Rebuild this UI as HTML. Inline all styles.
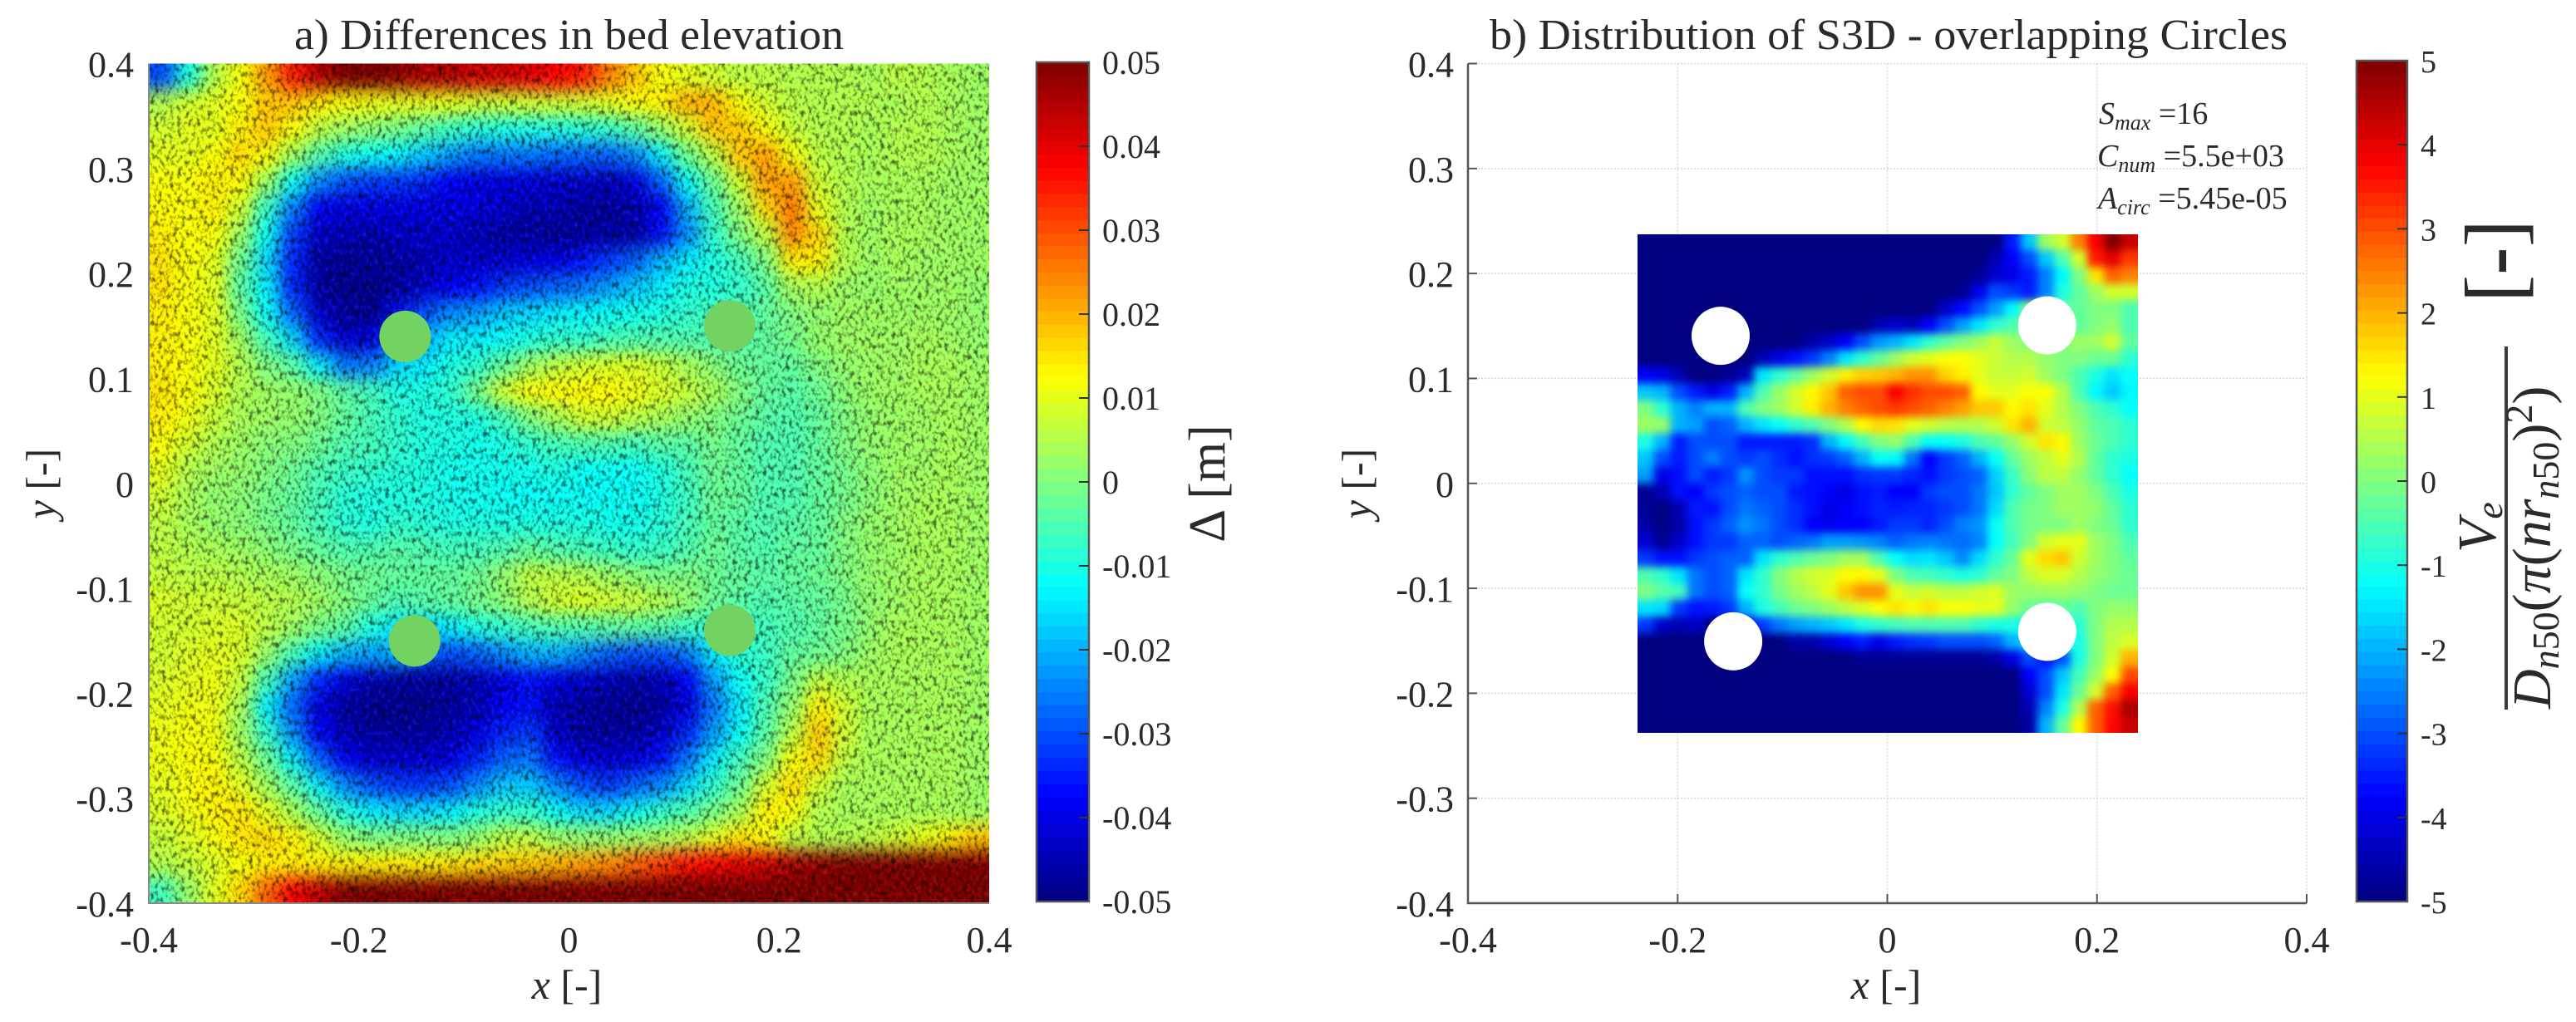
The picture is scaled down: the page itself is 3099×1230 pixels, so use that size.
<!DOCTYPE html>
<html><head><meta charset="utf-8"><title>Bed elevation and S3D distribution</title>
<style>
html,body{margin:0;padding:0;background:#fff}
svg{display:block}
text{font-family:"Liberation Serif",serif;fill:#2a2a2a}
.i{font-style:italic}
</style></head>
<body>
<svg id="fig" xmlns="http://www.w3.org/2000/svg" width="3099" height="1230" viewBox="0 0 3099 1230">
<defs>
<filter id="blurA" filterUnits="userSpaceOnUse" x="100" y="0" width="1200" height="1200" color-interpolation-filters="sRGB"><feGaussianBlur stdDeviation="10"/></filter>
<filter id="blurB" filterUnits="userSpaceOnUse" x="1900" y="200" width="760" height="760" color-interpolation-filters="sRGB"><feGaussianBlur stdDeviation="5"/></filter>
<filter id="shadeDark" filterUnits="userSpaceOnUse" x="179" y="76" width="1011" height="1011" color-interpolation-filters="sRGB">
<feTurbulence type="fractalNoise" baseFrequency="0.22 0.15" numOctaves="2" seed="7"/>
<feColorMatrix type="matrix" values="0 0 0 0 0  0 0 0 0 0  0 0 0 0 0  3 0 0 0 -1.4"/>
</filter>
<filter id="shadeLight" filterUnits="userSpaceOnUse" x="179" y="76" width="1011" height="1011" color-interpolation-filters="sRGB">
<feTurbulence type="fractalNoise" baseFrequency="0.22 0.15" numOctaves="2" seed="7"/>
<feColorMatrix type="matrix" values="0 0 0 0 1  0 0 0 0 1  0 0 0 0 1  -2.2 0 0 0 0.95"/>
</filter>
<clipPath id="clipA"><rect x="179" y="76.5" width="1011" height="1010.5"/></clipPath>
<clipPath id="clipB"><rect x="1970" y="282" width="602" height="600"/></clipPath>
</defs>

<g>
<g clip-path="url(#clipA)">
<g id="cellsA" filter="url(#blurA)"></g>
<rect x="179" y="76" width="1011" height="1011" fill="#000" filter="url(#shadeDark)" opacity="0.6"/>
<rect x="179" y="76" width="1011" height="1011" fill="#fff" filter="url(#shadeLight)" opacity="0.15"/>
<g id="piersA"></g>
</g>
<path d="M179 76.5V1087H1190" fill="none" stroke="#8a8a8a" stroke-width="2"/>
<text x="684.5" y="59" font-size="52" text-anchor="middle" textLength="661" lengthAdjust="spacingAndGlyphs">a) Differences in bed elevation</text>
<text x="682" y="1202" font-size="50" text-anchor="middle"><tspan class="i">x</tspan> [-]</text>
<text transform="translate(66,582) rotate(-90)" font-size="50" text-anchor="middle"><tspan class="i">y</tspan> [-]</text>
<text transform="translate(1473,582) rotate(-90)" font-size="62" text-anchor="middle">Δ [m]</text>
</g>

<g>
<g id="gridB"></g>
<g clip-path="url(#clipB)">
<g id="cellsB" filter="url(#blurB)"></g>
<g id="holesB"></g>
</g>
<path d="M1766 76.5V1087H2775" fill="none" stroke="#555" stroke-width="2.5"/>
<text x="2272" y="59" font-size="52" text-anchor="middle" textLength="960" lengthAdjust="spacingAndGlyphs">b) Distribution of S3D - overlapping Circles</text>
<text x="2269" y="1202" font-size="50" text-anchor="middle"><tspan class="i">x</tspan> [-]</text>
<text transform="translate(1649,582) rotate(-90)" font-size="50" text-anchor="middle"><tspan class="i">y</tspan> [-]</text>
<text x="2525" y="149" font-size="38"><tspan class="i">S</tspan><tspan class="i" font-size="26" dy="7">max</tspan><tspan dy="-7"> =16</tspan></text>
<text x="2523" y="200" font-size="38"><tspan class="i">C</tspan><tspan class="i" font-size="26" dy="7">num</tspan><tspan dy="-7"> =5.5e+03</tspan></text>
<text x="2524" y="251" font-size="38"><tspan class="i">A</tspan><tspan class="i" font-size="26" dy="7">circ</tspan><tspan dy="-7"> =5.45e-05</tspan></text>
<text transform="translate(3002,665) rotate(-90)" font-size="66"><tspan class="i">V</tspan><tspan class="i" font-size="46" dy="8">e</tspan></text>
<rect x="3013" y="417" width="4" height="437" fill="#3a3a3a"/>
<text transform="translate(3068,853) rotate(-90)" font-size="66"><tspan class="i">D</tspan><tspan class="i" font-size="46" dy="10">n</tspan><tspan font-size="46">50</tspan><tspan dy="-10">(</tspan><tspan class="i">π</tspan>(<tspan class="i">nr</tspan><tspan class="i" font-size="46" dy="10">n</tspan><tspan font-size="46">50</tspan><tspan dy="-10">)</tspan><tspan font-size="46" dy="-22">2</tspan><tspan dy="22">)</tspan></text>
<text transform="translate(3034,364) rotate(-90)" font-size="100">[<tspan font-weight="bold">-</tspan>]</text>
</g>
<g id="dyn"></g>
</svg>

<script>
// Panel a: bed elevation difference in mm, rows from y=+0.4 to y=-0.4, columns from x=-0.4 to x=+0.4
var bedRows = [
[-30,-10,5,12,22,35,45,50,50,48,45,45,42,42,40,38,35,25,18,12,10,8,6,6,5,5,5,4,6,5,4,3],
[5,8,10,12,18,18,14,12,11,10,10,10,8,8,8,8,8,10,12,14,20,20,12,8,6,5,5,5,4,5,4,3],
[8,10,10,14,18,12,6,3,1,-1,-4,-7,-9,-10,-10,-10,-9,-8,-4,2,8,18,18,12,7,5,5,4,5,5,4,3],
[10,10,12,16,12,3,-5,-10,-12,-14,-18,-22,-26,-26,-26,-28,-28,-28,-24,-14,-2,6,18,22,12,6,5,4,5,5,4,3],
[12,12,14,13,3,-12,-24,-30,-32,-32,-34,-38,-40,-40,-40,-42,-42,-44,-40,-28,-12,-2,8,22,22,8,5,4,4,4,3,3],
[13,12,14,8,-8,-25,-38,-40,-40,-40,-40,-40,-40,-42,-44,-44,-46,-46,-44,-38,-20,-6,3,16,26,10,5,3,4,4,3,3],
[14,12,12,3,-12,-32,-42,-44,-44,-42,-42,-42,-44,-46,-46,-47,-46,-46,-46,-36,-24,-8,0,6,24,16,5,3,4,4,3,3],
[15,12,10,-2,-16,-34,-46,-47,-47,-46,-44,-42,-42,-42,-40,-40,-36,-32,-28,-20,-14,-10,-6,0,14,14,5,3,4,3,3,3],
[15,12,10,-4,-14,-34,-46,-48,-48,-46,-42,-38,-36,-32,-30,-28,-26,-22,-18,-14,-10,-10,-8,-4,4,5,3,2,3,3,3,2],
[14,12,10,-1,-12,-28,-42,-46,-48,-36,-30,-24,-22,-18,-16,-14,-13,-12,-11,-10,-8,-6,-5,-3,0,2,3,3,3,3,3,2],
[14,12,10,3,-6,-16,-34,-42,-40,-25,-20,-14,-14,-12,-10,-8,-8,-6,-5,-5,-5,-5,-5,-3,-1,2,3,3,3,4,3,2],
[14,12,10,5,0,-4,-14,-26,-25,-16,-14,-10,-8,-3,3,6,8,9,9,7,4,1,-2,-3,-3,0,2,3,3,4,4,3],
[15,12,9,5,3,2,0,-4,-6,-10,-10,-8,-1,8,12,13,13,13,11,9,7,4,0,-3,-4,-2,1,3,3,4,4,3],
[14,11,7,4,3,2,0,-3,-6,-8,-10,-10,-10,-6,0,4,8,8,6,4,2,0,-2,-4,-5,-3,0,2,3,3,4,3],
[12,8,5,3,1,0,-2,-5,-6,-8,-10,-10,-11,-10,-8,-6,-5,-5,-6,-4,-4,-1,-3,-5,-5,-3,0,2,3,3,4,3],
[10,5,3,2,0,-2,-5,-7,-8,-9,-10,-11,-11,-11,-11,-10,-12,-12,-12,-10,-6,-2,-3,-5,-5,-3,-1,1,3,3,4,3],
[8,4,2,1,-1,-3,-6,-9,-10,-10,-10,-11,-11,-12,-12,-12,-12,-12,-12,-10,-7,-2,-3,-5,-5,-3,-1,1,3,4,4,3],
[6,4,2,1,-1,-3,-6,-9,-10,-8,-9,-10,-10,-10,-10,-10,-10,-11,-11,-9,-6,-3,-4,-5,-4,-3,0,2,3,4,4,3],
[6,5,4,3,1,-1,-3,-5,-5,-4,-5,-6,-6,-5,-3,-5,-6,-7,-8,-7,-5,-2,-4,-5,-3,-3,0,2,3,4,4,3],
[7,6,6,5,4,3,1,-1,-2,-3,-3,-3,-2,2,6,6,5,3,1,-1,0,-2,-3,-4,-3,-2,0,2,3,4,4,3],
[9,8,8,7,6,5,3,0,-3,-5,-4,-3,-1,1,5,8,9,8,7,5,2,-2,-4,-5,-4,-3,-1,2,3,4,4,3],
[8,8,9,9,6,3,-1,-4,-10,-15,-16,-14,-10,-8,-6,-5,-5,-4,-4,-5,-7,-8,-8,-6,-5,-3,-1,2,4,4,4,3],
[8,9,10,9,2,-6,-14,-20,-22,-20,-28,-30,-28,-24,-20,-20,-24,-28,-30,-30,-26,-14,-9,-7,-3,-2,0,3,4,4,4,3],
[9,10,11,7,-6,-22,-34,-40,-44,-46,-46,-46,-44,-40,-36,-40,-42,-44,-45,-44,-38,-22,-12,-7,-1,6,5,4,4,4,4,3],
[10,11,11,4,-14,-28,-40,-46,-48,-48,-48,-46,-44,-38,-36,-44,-46,-47,-48,-46,-40,-26,-14,-5,2,14,8,4,4,4,4,3],
[11,12,11,3,-8,-24,-38,-44,-46,-46,-46,-44,-40,-34,-32,-42,-46,-46,-46,-42,-34,-22,-12,-4,6,18,8,4,4,4,4,3],
[11,12,12,6,-2,-14,-28,-38,-42,-42,-42,-40,-34,-28,-26,-36,-40,-42,-40,-36,-26,-14,-6,0,12,16,6,4,4,4,4,3],
[10,12,14,10,3,-4,-14,-24,-30,-32,-32,-30,-24,-18,-18,-24,-30,-32,-28,-24,-16,-8,-2,8,16,8,4,4,4,4,4,3],
[9,11,14,15,10,4,-3,-10,-14,-16,-16,-14,-10,-8,-8,-12,-16,-16,-12,-8,-5,-1,4,14,12,5,4,4,4,4,4,3],
[7,9,12,15,16,14,8,2,0,0,0,0,2,6,6,3,2,2,3,4,6,10,15,12,6,5,5,6,8,10,14,18],
[5,7,9,12,14,14,14,14,14,14,14,15,16,17,18,20,22,24,28,32,36,38,40,42,46,48,50,50,50,50,50,50],
[-6,2,10,16,28,38,44,50,50,50,50,50,50,50,50,50,50,50,50,50,50,50,50,50,50,50,50,50,50,50,50,50]
];
// Panel b: normalised value, rows from top to bottom, columns from left to right
var s3dRows = [
[-5,-5,-5,-5,-5,-5,-5,-5,-5,-5,-5,-5,-5,-5,-5,-5,-5,-5,-5,-5,-5,-5,-3.5,-1.8,0.3,0.8,2.5,3.8,5,4.3],
[-5,-5,-5,-5,-5,-5,-5,-5,-5,-5,-5,-5,-5,-5,-5,-5,-5,-5,-5,-5,-5,-4.5,-3.8,-3,-1.8,-0.5,0.8,3.5,4,3.2],
[-5,-5,-5,-5,-5,-5,-5,-5,-5,-5,-5,-5,-5,-5,-5,-5,-5,-5,-5,-5,-4.8,-4.2,-4,-3.5,-2.5,-1.3,0,1.5,2.8,2.5],
[-5,-5,-5,-5,-5,-5,-5,-5,-5,-5,-5,-5,-5,-5,-5,-5,-5,-5,-5,-4.8,-4,-3,-3.2,-3.5,-2.5,-1,-0.3,0.3,0.8,0.8],
[-5,-5,-5,-5,-5,-5,-5,-5,-5,-5,-5,-5,-5,-5,-5,-5,-5,-5,-4.3,-3.7,-3,-2.2,-1.3,0,0,-0.3,-0.3,0,0,-0.5],
[-5,-5,-5,-5,-5,-5,-5,-5,-5,-5,-5,-5,-5,-5,-4.5,-4.3,-4.5,-3.8,-3,-2.2,-1.5,-0.8,-0.5,0,0,0,-0.3,0,0.2,-0.5],
[-5,-5,-5,-5,-5,-5,-5,-5,-5,-5,-4.6,-4.3,-3.8,-3,-2.3,-2,-1.5,-0.8,-0.3,0,0.3,0.7,0.3,0,0,0,0.3,0.3,0.8,-0.3],
[-5,-5,-5,-5,-5,-5,-5,-4.5,-4,-3.6,-3.2,-2.5,-1.5,-0.8,-0.3,0.3,0.8,1,1.2,1.2,1,0.7,0.5,0.5,0.2,0,0,-0.2,-0.2,-0.8],
[-3.8,-4,-4.5,-5,-5,-4.8,-4.4,-1.5,-0.8,-0.3,0.3,0.8,1.4,1.7,1.8,2,2.3,2.3,1.7,1.4,1,0.7,0.7,0.8,0.3,0,-0.5,-1,-1.5,-1.2],
[-1.8,-2,-3,-3.5,-4,-3.5,-2,-0.5,0.2,0.8,1.3,1.8,2.8,3,3,3.8,3.3,3,3,2.8,1.3,1,1,1.2,1.2,0.5,-0.5,-1.3,-1.8,-1.3],
[0,-0.8,-2,-2.5,-2,-2,-0.5,0,0.3,0.8,1.4,2,2.5,2.8,3,3.2,3,2.8,2.5,2.2,1.8,1.8,1.3,1.5,1,0.5,0,-0.5,-0.8,-1.2],
[0.3,0.2,-2,-2.2,-3,-2.8,-2,-1.5,-1.2,-0.8,-0.5,0,0.5,1.3,1.6,1.5,1,0.8,0.6,0.5,0.5,0.8,1.5,2,0.8,0.6,0.2,-0.3,-0.5,-0.8],
[-1,-2,-3.5,-3,-3,-3,-3.5,-3.5,-3.5,-3.5,-3.3,-2,-1.3,-0.6,0,0.2,-0.5,-1.2,-1.2,-1,-0.5,-0.3,0.2,0.8,1.5,1.3,0.3,-0.2,-0.5,-0.8],
[-1.8,-3,-3.5,-3,-2.5,-3,-3.2,-3,-3.3,-3.6,-3.3,-3.2,-2.8,-2,-1.2,-1.3,-2.6,-3.8,-3.2,-2.8,-2,-1.2,-0.3,0.3,0.6,1,0.5,-0.3,-0.8,-1],
[-2.2,-4,-3.6,-3,-3.5,-3.2,-2.3,-3,-3.2,-3.2,-3.6,-3.6,-3.6,-3.3,-3.2,-3.2,-3.4,-3.6,-3.2,-3,-2.8,-1.7,-0.7,0.1,0.6,0.6,0.2,-0.3,-0.8,-1.2],
[-4.8,-4.5,-3.6,-3.8,-3.2,-3,-2.8,-3,-3,-3.5,-3.6,-3.8,-4,-3.6,-3.5,-3.8,-3.8,-3.2,-3,-3,-2.6,-1.8,-0.8,-0.3,0,0.3,0.3,0,-0.5,-1],
[-4.8,-5,-4.5,-3.5,-3.6,-3,-2.6,-2.8,-3,-3.3,-3.6,-4,-3.8,-3.6,-3.4,-3.5,-3.4,-3.4,-3.2,-3,-2.6,-1.6,-0.5,-0.1,0,0.3,0.3,0.2,-0.3,-0.8],
[-4.6,-5,-4.6,-3.6,-3.2,-2.8,-2.3,-2.6,-3,-3.3,-3.8,-3.9,-3.8,-3.8,-3.5,-3.2,-3.2,-3.4,-3,-2.5,-2.3,-1.2,-0.5,-0.1,0,0,0.3,0,-0.2,-0.8],
[-4.2,-4.8,-4.3,-3.6,-3.2,-3.2,-2.8,-2.8,-3,-2.8,-2.6,-2.2,-2.2,-2.3,-2.5,-2.8,-2.6,-2.5,-2.6,-2.7,-2.5,-1.2,-0.6,0,0.8,1,1,0.3,0,-0.5],
[-3.2,-3.6,-3.6,-3.2,-3,-2.8,-2.8,-1.5,-0.8,-0.5,-0.2,0,0.3,0.3,-0.5,-1.2,-1.6,-1.5,-1.8,-2.4,-1.6,-0.8,-0.2,1,1.6,1.8,0.8,0.3,0,-0.3],
[-0.5,-0.8,-1.5,-2.6,-3,-2.8,-1.5,-0.8,0,0.5,0.8,0.9,1.3,1.3,1,0,-0.5,-0.6,-0.8,-1,-0.8,-0.3,0,0.6,0.9,0.9,0.5,0.2,0,-0.2],
[0,-0.4,-0.6,-2.6,-3,-2.8,-1.2,-0.8,-0.1,0.3,0.6,1,1.8,2.3,2.3,1,0.7,0.8,0.6,0.6,0.8,0.9,0.3,0.2,0.3,0.3,0.2,0,-0.2,-0.2],
[-1.5,-1.6,-3.2,-3.6,-3.5,-3.2,-2,-1,-0.6,-0.2,0,0.3,0.6,0.9,1.2,1.5,1.3,1.5,1.2,1.2,1,1,0.2,-0.2,-0.5,-0.3,-0.5,0,0.2,0.2],
[-3.2,-4.3,-4.5,-4.3,-5,-5,-4,-3.2,-2.6,-2.2,-2,-1.8,-1.5,-1,-0.8,-0.6,-0.5,-0.5,-0.5,-0.5,-0.8,-1,-1,-1.2,-1.2,-1,-0.8,0,0.5,0.5],
[-5,-5,-5,-5,-5,-5,-5,-5,-5,-4.6,-4.6,-4.2,-3.8,-3.5,-4,-3.5,-3.3,-3.2,-3,-3,-3,-2.8,-2,-1.5,-1,-1,-1,0,0.6,0.9],
[-5,-5,-5,-5,-5,-5,-5,-5,-5,-5,-5,-5,-5,-4.8,-4.8,-4.8,-4.8,-4.8,-4.8,-4.8,-4.8,-4.6,-4,-3,-3.6,-3,-1,0,0.8,2],
[-5,-5,-5,-5,-5,-5,-5,-5,-5,-5,-5,-5,-5,-5,-5,-5,-5,-5,-5,-5,-5,-5,-5,-3.8,-3,-1.8,-0.6,0.3,1.2,3],
[-5,-5,-5,-5,-5,-5,-5,-5,-5,-5,-5,-5,-5,-5,-5,-5,-5,-5,-5,-5,-5,-5,-5,-4.2,-3,-1.5,-0.2,0.8,2.8,3.8],
[-5,-5,-5,-5,-5,-5,-5,-5,-5,-5,-5,-5,-5,-5,-5,-5,-5,-5,-5,-5,-5,-5,-5,-4.5,-2.5,-1,0.5,2.8,3.6,4.6],
[-5,-5,-5,-5,-5,-5,-5,-5,-5,-5,-5,-5,-5,-5,-5,-5,-5,-5,-5,-5,-5,-5,-5,-4.6,-2,-0.3,1.3,2.8,3.7,4.3]
];
var pierXA = [-0.156,0.153,-0.147,0.153];
var pierYA = [0.14,0.15,-0.15,-0.14];
var holeXB = [-0.159,0.1525,-0.147,0.1525];
var holeYB = [0.1406,0.1505,-0.1505,-0.1415];
var xTickLabels = ['-0.4','-0.2','0','0.2','0.4'];
var yTickLabels = ['0.4','0.3','0.2','0.1','0','-0.1','-0.2','-0.3','-0.4'];
var cbarTicksA = ['0.05','0.04','0.03','0.02','0.01','0','-0.01','-0.02','-0.03','-0.04','-0.05'];
var cbarTicksB = ['5','4','3','2','1','0','-1','-2','-3','-4','-5'];

var NS = 'http://www.w3.org/2000/svg';
function xA(v){return 179+(v+0.4)/0.8*1011;}
function yA(v){return 1087-(v+0.4)/0.8*1010.5;}
function xB(v){return 1766+(v+0.4)/0.8*1009;}
function yB(v){return 1087-(v+0.4)/0.8*1010.5;}
function clamp(v){return Math.max(0,Math.min(1,v));}
function jet(t){
  t=clamp(t);
  var r=clamp(1.5-Math.abs(4*t-3)),g=clamp(1.5-Math.abs(4*t-2)),b=clamp(1.5-Math.abs(4*t-1));
  return 'rgb('+Math.round(r*255)+','+Math.round(g*255)+','+Math.round(b*255)+')';
}
function make(tag,attrs,parent){
  var el=document.createElementNS(NS,tag);
  for(var k in attrs){el.setAttribute(k,attrs[k]);}
  parent.appendChild(el);
  return el;
}
function heat(rows,x0,x1,y0,y1,xf,yf,pad,lo,hi,parent,name){
  rows.forEach(function(row,j){
    var dy=(y1-y0)/rows.length;
    var top=yf(y0+j*dy),bot=yf(y0+(j+1)*dy);
    if(j===0){top-=pad;}
    if(j===rows.length-1){bot+=pad;}
    row.forEach(function(v,i){
      var dx=(x1-x0)/row.length;
      var l=xf(x0+i*dx),r=xf(x0+(i+1)*dx);
      if(i===0){l-=pad;}
      if(i===row.length-1){r+=pad;}
      var el=make('rect',{x:l,y:top,width:r-l+0.6,height:bot-top+0.6,fill:jet((v-lo)/(hi-lo))},parent);
      
      
    });
  });
}
heat(bedRows,-0.4,0.4,0.4,-0.4,xA,yA,40,-50,50,document.getElementById('cellsA'),'bed-cell');
heat(s3dRows,-0.2385,0.2385,0.238,-0.238,xB,yB,30,-5,5,document.getElementById('cellsB'),'s3d-cell');

pierXA.forEach(function(x,i){
  var el=make('circle',{cx:xA(x),cy:yA(pierYA[i]),r:31,fill:'#72d262'},document.getElementById('piersA'));
  
  
});
holeXB.forEach(function(x,i){
  var el=make('circle',{cx:xB(x),cy:yB(holeYB[i]),r:35,fill:'#fff'},document.getElementById('holesB'));
  
  
});

// grid for panel b
var gridB=document.getElementById('gridB');
xTickLabels.forEach(function(t){
  var x=xB(parseFloat(t));
  var el=make('line',{x1:x,x2:x,y1:76.5,y2:1087,stroke:'#d8d8d8','stroke-width':1.6,'stroke-dasharray':'2 2'},gridB);
  
  
});
yTickLabels.forEach(function(t){
  var y=yB(parseFloat(t));
  var el=make('line',{x1:1766,x2:2775,y1:y,y2:y,stroke:'#d8d8d8','stroke-width':1.6,'stroke-dasharray':'2 2'},gridB);
  
  
});

var dyn=document.getElementById('dyn');
function label(txt,x,y,size,anchor,name){
  var el=make('text',{x:x,y:y,'font-size':size,'text-anchor':anchor},dyn);
  el.textContent=txt;
  
  
  return el;
}
function axisLabels(xf,yf,yRight,suffix,withTicks){
  xTickLabels.forEach(function(t){
    var v=parseFloat(t),x=xf(v);
    label(t,x,1146,44,'middle','x-tick-label-'+suffix);
    if(withTicks){
      var m=make('line',{x1:x,x2:x,y1:1087,y2:1076,stroke:'#555','stroke-width':2},dyn);
      
      
    }
  });
  yTickLabels.forEach(function(t){
    var v=parseFloat(t),y=yf(v);
    label(t,yRight,y+16,44,'end','y-tick-label-'+suffix);
    if(withTicks){
      var m=make('line',{x1:1766,x2:1777,y1:y,y2:y,stroke:'#555','stroke-width':2},dyn);
      
      
    }
  });
}
axisLabels(xA,yA,161,'a',false);
axisLabels(xB,yB,1749,'b',true);

function colorbar(left,right,top,bottom,labels,labelX,size,suffix){
  var n=64,h=(bottom-top)/n;
  for(var k=0;k<n;k++){
    var el=make('rect',{x:left,y:top+(n-1-k)*h,width:right-left,height:h+0.5,fill:jet((k+0.5)/n)},dyn);
    
    
  }
  var f=make('rect',{x:left,y:top,width:right-left,height:bottom-top,fill:'none',stroke:'#555','stroke-width':2.5},dyn);
  
  
  labels.forEach(function(t,i){
    var y=top+(bottom-top)*i/(labels.length-1);
    label(t,labelX,y+14,size,'start','colorbar-tick-label-'+suffix);
    if(i>0&&i<labels.length-1){
      var m=make('line',{x1:right-12,x2:right,y1:y,y2:y,stroke:'#333','stroke-width':2},dyn);
      
      
    }
  });
}
colorbar(1247,1310,75,1085,cbarTicksA,1326,40,'a');
colorbar(2835,2896,73,1085,cbarTicksB,2912,38,'b');
</script>
</body></html>
